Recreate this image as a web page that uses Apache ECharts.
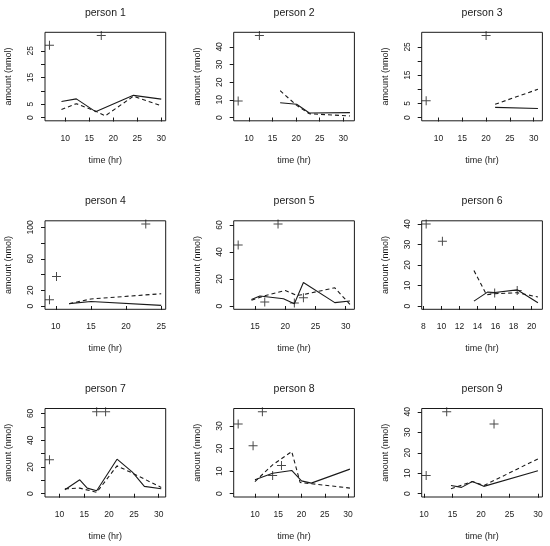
<!DOCTYPE html>
<html><head><meta charset="utf-8">
<script src="https://cdn.jsdelivr.net/npm/echarts@6/dist/echarts.min.js"></script>
<style>html,body{margin:0;padding:0;background:#fff}#c{width:550px;height:546px}</style>
</head><body><div id="c"></div>
<script>
// ---- data (time in hr, amount in nmol) ----
const titles = ['person 1','person 2','person 3','person 4','person 5','person 6','person 7','person 8','person 9'];
const xName = 'time (hr)';
const yName = 'amount (nmol)';

const obs1 = [[6.7,27.1],[17.5,30.7]];
const solid1 = [[9.2,6.0],[12.3,7.0],[16.3,2.2],[24.2,8.3],[30,6.9]];
const dashed1 = [[9.2,3.0],[12.3,5.2],[16.3,2.4],[18.3,0.6],[24.2,8.0],[30,4.4]];

const obs2 = [[7.7,9.4],[12.2,46.4]];
const solid2 = [[16.6,8.4],[20.1,7.5],[22.8,2.6],[31.4,2.8]];
const dashed2 = [[16.6,15.2],[20.1,6.9],[22.8,2.1],[31.4,0.9]];

const obs3 = [[7.4,5.9],[20.0,29.0]];
const solid3 = [[21.9,3.6],[30.9,3.2]];
const dashed3 = [[21.9,4.7],[30.9,10.0]];

const obs4 = [[9.1,8.0],[10.1,37.6],[22.8,104.2]];
const solid4 = [[11.9,3.0],[15.0,5.8],[25.0,0.8]];
const dashed4 = [[11.9,3.0],[15.0,9.0],[25.0,15.6]];

const obs5 = [[12.2,45.2],[18.8,60.7],[16.6,2.9],[21.5,2.2],[23.0,6.1]];
const solid5 = [[14.4,4.9],[15.8,7.4],[19.7,5.4],[21.5,1.7],[23.0,17.4],[28.2,2.5],[30.7,3.7]];
const dashed5 = [[14.4,4.2],[16.6,7.6],[20.0,11.5],[21.9,7.9],[23.0,8.5],[28.2,13.5],[30.7,1.2]];

const obs6 = [[8.3,40.0],[10.1,31.6],[15.9,6.3],[18.4,7.6]];
const solid6 = [[13.6,2.4],[15.1,6.8],[15.9,6.6],[18.4,7.9],[20.7,1.6]];
const dashed6 = [[13.6,17.3],[15.0,5.5],[15.9,6.0],[18.4,6.5],[20.7,4.4]];

const obs7 = [[8.0,25.3],[17.5,61.2],[19.3,61.2]];
const solid7 = [[11.1,3.0],[14.1,10.4],[15.6,4.2],[17.5,2.2],[21.6,25.8],[24.7,16.1],[27.1,5.5],[30.5,3.7]];
const dashed7 = [[11.1,3.7],[14.1,4.2],[17.5,1.0],[21.6,20.8],[24.7,15.4],[30.5,4.7]];

const obs8 = [[6.4,30.9],[9.6,21.2],[11.6,36.3],[13.8,8.1],[15.7,12.5]];
const solid8 = [[10.0,6.2],[13.8,9.1],[17.9,10.3],[20.0,5.7],[22.1,4.7],[30.4,10.9]];
const dashed8 = [[10.0,5.4],[13.8,12.8],[17.9,18.7],[19.7,5.0],[30.4,2.5]];

const obs9 = [[10.4,8.9],[14.0,40.0],[22.3,34.0]];
const solid9 = [[14.75,4.0],[16.6,3.1],[18.5,6.0],[20.5,3.6],[30.0,11.2]];
const dashed9 = [[14.75,2.4],[18.5,6.0],[20.5,4.0],[30.0,17.0]];

// ---- tick values / tick labels ----
const xTicks = [
  [10,15,20,25,30],[10,15,20,25,30],[10,15,20,25,30],
  [10,15,20,25],[15,20,25,30],[8,10,12,14,16,18,20],
  [10,15,20,25,30],[10,15,20,25,30],[10,15,20,25,30]
];
const yTicks = [
  [0,5,10,15,20,25],[0,10,20,30,40],[0,5,10,15,20,25],
  [0,20,40,60,80,100],[0,20,40,60],[0,10,20,30,40],
  [0,10,20,30,40,50,60],[0,10,20,30],[0,10,20,30,40]
];
const yLabels = [
  [0,5,15,25],[0,10,20,30,40],[0,5,15,25],
  [0,20,60,100],[0,20,40,60],[0,10,20,30,40],
  [0,20,40,60],[0,10,20,30],[0,10,20,30,40]
];

const obsAll = [obs1,obs2,obs3,obs4,obs5,obs6,obs7,obs8,obs9];
const solidAll = [solid1,solid2,solid3,solid4,solid5,solid6,solid7,solid8,solid9];
const dashedAll = [dashed1,dashed2,dashed3,dashed4,dashed5,dashed6,dashed7,dashed8,dashed9];

// ---- layout ----
const colLeft = [45, 233.7, 421.7], colW = 120.7;
const rowTop = [32.3, 220.8, 408.5], rowH = 88.5;
const FONT = 'Liberation Sans';
const INK = '#1a1a1a';
const crossPath = 'path://M4.45,0H5.55V4.45H10V5.55H5.55V10H4.45V5.55H0V4.45H4.45Z';

function range(vals){
  let mn = Math.min.apply(null, vals), mx = Math.max.apply(null, vals);
  const pad = (mx - mn) * 0.04;
  return [mn - pad, mx + pad];
}

const grid = [], xAxis = [], yAxis = [], series = [], graphic = [];
for (let i = 0; i < 9; i++) {
  const r = Math.floor(i / 3), c = i % 3;
  const pts = obsAll[i].concat(solidAll[i], dashedAll[i]);
  const xr = range(pts.map(p => p[0]));
  const yr = range([0].concat(pts.map(p => p[1])));   // y limits start at 0
  grid.push({left: colLeft[c], top: rowTop[r], width: colW, height: rowH,
    show: true, borderColor: INK, borderWidth: 1, backgroundColor: 'transparent', containLabel: false});
  xAxis.push({type: 'value', gridIndex: i, min: xr[0], max: xr[1],
    axisLine: {show: false},
    axisTick: {show: true, length: 4, customValues: xTicks[i], lineStyle: {color: INK, width: 1}},
    axisLabel: {customValues: xTicks[i], fontSize: 8.5, color: INK, fontFamily: FONT, margin: 13},
    splitLine: {show: false},
    name: xName, nameLocation: 'middle', nameGap: 35,
    nameTextStyle: {fontSize: 9, color: INK, fontFamily: FONT}});
  yAxis.push({type: 'value', gridIndex: i, min: yr[0], max: yr[1],
    axisLine: {show: false},
    axisTick: {show: true, length: 4, customValues: yTicks[i], lineStyle: {color: INK, width: 1}},
    axisLabel: {customValues: yLabels[i], rotate: 90, fontSize: 8.5, color: INK, fontFamily: FONT, margin: 10},
    splitLine: {show: false},
    name: yName, nameLocation: 'middle', nameGap: 32,
    nameTextStyle: {fontSize: 9, color: INK, fontFamily: FONT}});
  series.push({type: 'line', xAxisIndex: i, yAxisIndex: i, data: solidAll[i],
    showSymbol: false, symbol: 'none', lineStyle: {color: INK, width: 1.1}, silent: true, animation: false});
  series.push({type: 'line', xAxisIndex: i, yAxisIndex: i, data: dashedAll[i],
    showSymbol: false, symbol: 'none', lineStyle: {color: INK, width: 1.1, type: [4, 3]}, silent: true, animation: false});
  series.push({type: 'scatter', xAxisIndex: i, yAxisIndex: i, data: obsAll[i],
    symbol: crossPath, symbolSize: 9, itemStyle: {color: INK}, silent: true, animation: false});
  graphic.push({type: 'text', x: colLeft[c] + colW / 2, y: rowTop[r] - 19.5,
    style: {text: titles[i], fontSize: 10.5, fontFamily: FONT, fill: INK, textAlign: 'center', textVerticalAlign: 'middle'}});
}

const chart = echarts.init(document.getElementById('c'), null, {renderer: 'canvas'});
chart.setOption({animation: false, backgroundColor: '#fff', grid, xAxis, yAxis, series, graphic});
</script>
</body></html>
